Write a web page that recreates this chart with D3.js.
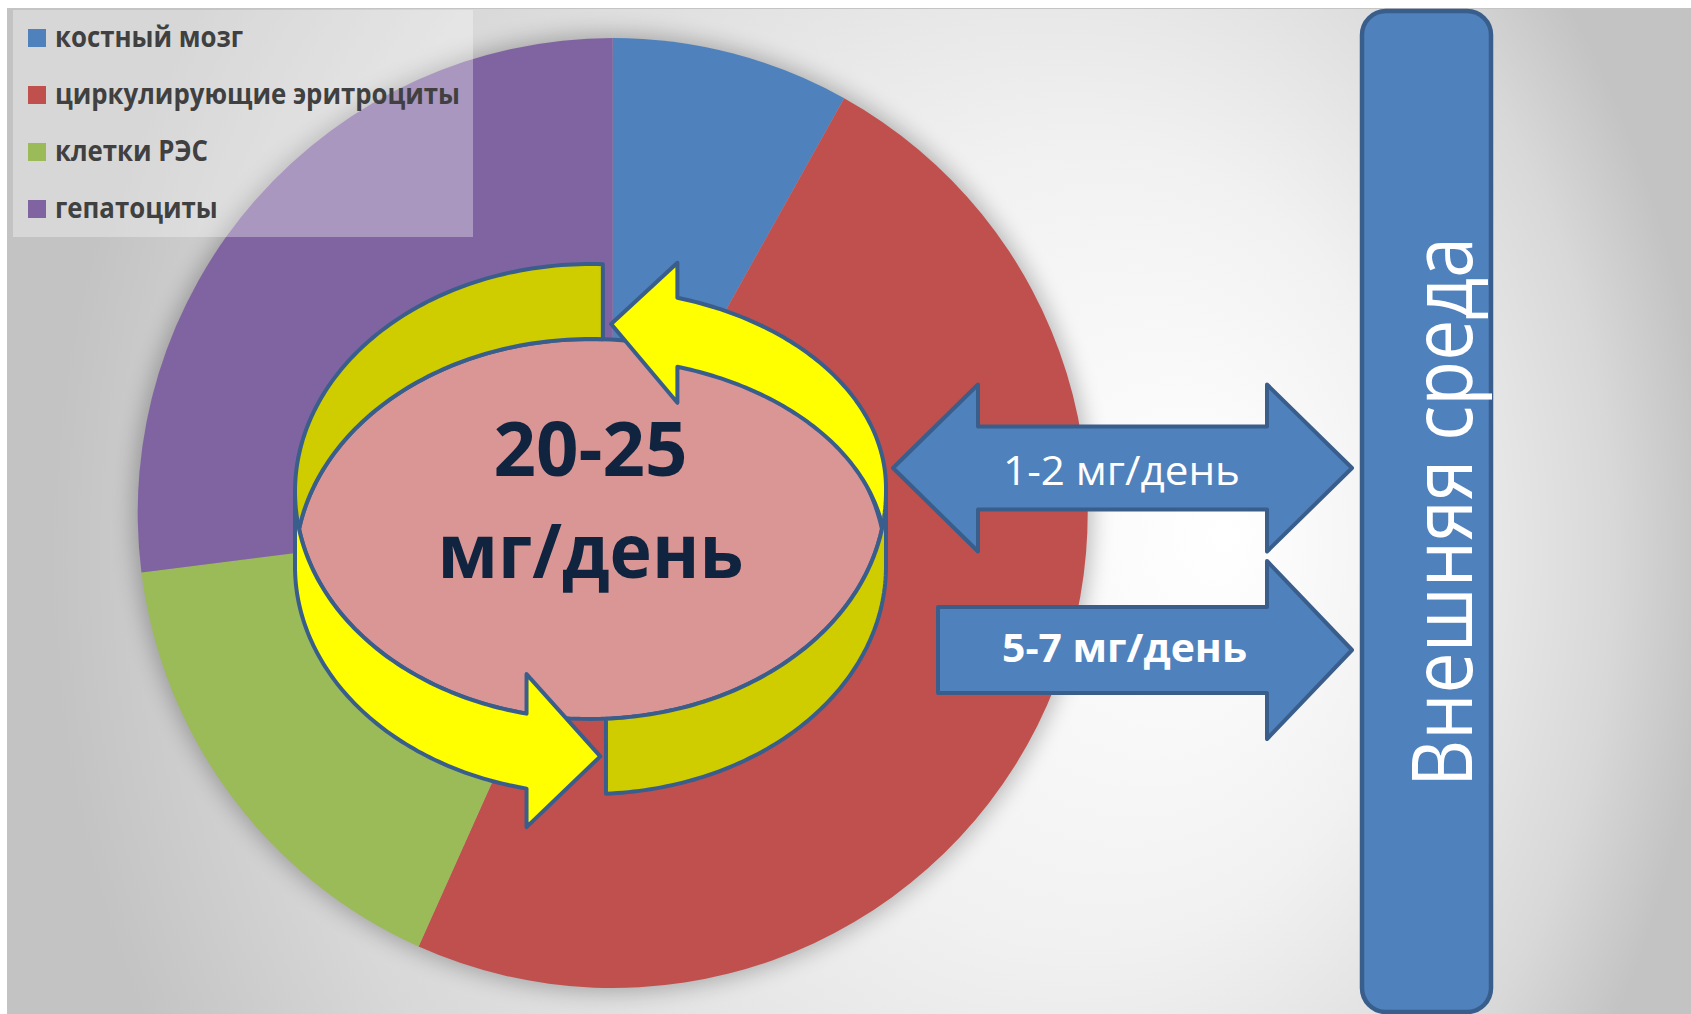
<!DOCTYPE html>
<html>
<head>
<meta charset="utf-8">
<script src="https://cdn.jsdelivr.net/npm/d3@7"></script>
<style>
  html, body { margin: 0; padding: 0; background: #ffffff; overflow: hidden; }
  svg { display: block; }
</style>
</head>
<body>
<svg id="chart" width="1691" height="1014"></svg>
<script>
// ---- data ----
const categories = ["костный мозг", "циркулирующие эритроциты", "клетки РЭС", "гепатоциты"];
const shares = [8.1, 48.6, 16.3, 27.0];
const sliceColors = ["#4F81BD", "#C0504D", "#9BBB59", "#8064A2"];
const cycleLabel = ["20-25", "мг/день"];
const exchangeLabels = ["1-2 мг/день", "5-7 мг/день"];
const exchangeTwoWay = [true, false];
const exchangeBold = [false, true];
const environmentLabel = "Внешняя среда";

// ---- layout ----
const W = 1691, H = 1014;
const FONT = "'Open Sans', 'Noto Sans', sans-serif";
const STROKE = "#3A5E8C";
const svg = d3.select("#chart");
const defs = svg.append("defs");

// plot area background: soft radial gradient, brightest right of the pie
const bg = defs.append("radialGradient")
  .attr("id", "bgGrad")
  .attr("gradientUnits", "userSpaceOnUse")
  .attr("cx", 880).attr("cy", 560).attr("r", 830)
  .attr("fx", 1230).attr("fy", 540)
  .attr("gradientTransform", "translate(0,560) scale(1,1.2) translate(0,-560)");
[[0, "#ffffff"], [0.4, "#f1f1f1"], [0.8, "#d8d8d8"], [1, "#c3c3c3"]]
  .forEach(([o, c]) => bg.append("stop").attr("offset", o).attr("stop-color", c));

const blur = defs.append("filter").attr("id", "pieShadow")
  .attr("x", "-20%").attr("y", "-20%").attr("width", "140%").attr("height", "140%");
blur.append("feGaussianBlur").attr("stdDeviation", 11);

svg.append("rect")
  .attr("x", 7.5).attr("y", 8.5).attr("width", W).attr("height", H)
  .attr("fill", "url(#bgGrad)")
  .attr("stroke", "#c4c4c4").attr("stroke-width", 1);

// ---- pie ----
const pieCx = 612.7, pieCy = 513, pieR = 475;
const pieG = svg.append("g").attr("transform", `translate(${pieCx},${pieCy})`);
pieG.append("circle").attr("r", pieR + 4)
  .attr("fill", "#000").attr("opacity", 0.26)
  .attr("filter", "url(#pieShadow)");
const slices = d3.pie().sort(null).value(d => d)(shares);
const arcGen = d3.arc().innerRadius(0).outerRadius(pieR);
pieG.selectAll("path.slice").data(slices).join("path")
  .attr("class", "slice")
  .attr("d", arcGen)
  .attr("fill", (d, i) => sliceColors[i]);

// ---- legend ----
const legend = svg.append("g");
legend.append("rect")
  .attr("x", 13).attr("y", 10).attr("width", 460).attr("height", 227)
  .attr("fill", "#ffffff").attr("fill-opacity", 0.33);
const items = legend.selectAll("g.item").data(categories).join("g")
  .attr("class", "item")
  .attr("transform", (d, i) => `translate(28,${29 + i * 57})`);
items.append("rect")
  .attr("width", 18).attr("height", 18)
  .attr("fill", (d, i) => sliceColors[i]);
const legendTexts = items.append("text")
  .attr("x", 27).attr("y", 18)
  .attr("font-family", FONT).attr("font-weight", 700).attr("font-size", 28)
  .attr("fill", "#404040")
  .text(d => d);
// condense the legend lettering so the longest entry spans 405px
const natural = legendTexts.nodes().map(n => n.getComputedTextLength());
const squeeze = 405 / d3.max(natural);
legendTexts.each(function (d, i) {
  d3.select(this).attr("textLength", natural[i] * squeeze).attr("lengthAdjust", "spacingAndGlyphs");
});

// ---- recycling ring: two curved arrows wrapped on a tilted cylinder ----
const deg = Math.PI / 180;
const mainCyl = { cx: 590.5, cy: 491.5, rx: 295.5, ry: 227.5, h: 75 };
const backCyl = { cx: 590.5, cy: 488, rx: 295.5, ry: 199, h: 69 };
const onCyl = (c, th, t) => [c.cx + c.rx * Math.cos(th * deg), c.cy + c.ry * Math.sin(th * deg) + t];
const along = (c, a0, a1, t, n = 80) => d3.range(n + 1).map(i => onCyl(c, a0 + (a1 - a0) * i / n, t));
const closed = d3.line();
const ringG = svg.append("g")
  .attr("stroke", STROKE).attr("stroke-width", 4).attr("stroke-linejoin", "round");

const band = (c, a0, a1) => [...along(c, a0, a1, 0), ...along(c, a1, a0, c.h)];
const arrow = (c, a0, aBack, aTip, up, down) => [
  ...along(c, a0, aBack, 0),
  onCyl(c, aBack, -up),
  onCyl(c, aTip, c.h / 2),
  onCyl(c, aBack, c.h + down),
  ...along(c, aBack, a0, c.h)
];

// inner disc: where the top and bottom rims overlap
const cross = Math.asin(mainCyl.h / (2 * mainCyl.ry)) / deg;
const disc = [
  ...along(mainCyl, cross, 180 - cross, 0),
  ...along(mainCyl, -180 + cross, -cross, mainCyl.h)
];
ringG.append("path").attr("d", closed(disc) + "Z").attr("fill", "#D99694");

// back tail (upper left), shaded
ringG.append("path").attr("d", closed(band(mainCyl, -87.6, -180)) + "Z").attr("fill", "#CFCC00");
// arrow along the back (right side up to the top)
ringG.append("path").attr("d", closed(arrow(backCyl, 0, -72.9, -86, 35, 36)) + "Z").attr("fill", "#FFFF00");
// front tail (lower right), shaded
ringG.append("path").attr("d", closed(band(mainCyl, 87, 0)) + "Z").attr("fill", "#CFCC00");
// arrow along the front (left side down to the bottom)
ringG.append("path").attr("d", closed(arrow(mainCyl, 180, 102.5, 88.1, 39.5, 38.5)) + "Z").attr("fill", "#FFFF00");

const centerText = svg.append("g")
  .attr("font-family", FONT).attr("font-weight", 700).attr("fill", "#10243F")
  .attr("text-anchor", "middle");
const cycleWidths = [194, 306];
const cycleBase = [476, 578];
cycleLabel.forEach((s, i) => {
  centerText.append("text")
    .attr("x", 590.5).attr("y", cycleBase[i])
    .attr("font-size", 75)
    .attr("textLength", cycleWidths[i]).attr("lengthAdjust", "spacingAndGlyphs")
    .text(s);
});

// ---- exchange with the environment ----
const flowRows = [
  { cy: 468, x0: 893, x1: 1352, shaft: 41.5, head: 83.5, len: 85, textX: 1121.5, textY: 485, textW: 237 },
  { cy: 650, x0: 938, x1: 1352, shaft: 43, head: 89, len: 85, textX: 1124.5, textY: 662, textW: 245 }
];
const flowG = svg.append("g");
exchangeLabels.forEach((label, i) => {
  const r = flowRows[i];
  const pts = exchangeTwoWay[i]
    ? [[r.x0, r.cy], [r.x0 + r.len, r.cy - r.head], [r.x0 + r.len, r.cy - r.shaft],
       [r.x1 - r.len, r.cy - r.shaft], [r.x1 - r.len, r.cy - r.head], [r.x1, r.cy],
       [r.x1 - r.len, r.cy + r.head], [r.x1 - r.len, r.cy + r.shaft],
       [r.x0 + r.len, r.cy + r.shaft], [r.x0 + r.len, r.cy + r.head]]
    : [[r.x0, r.cy - r.shaft], [r.x1 - r.len, r.cy - r.shaft], [r.x1 - r.len, r.cy - r.head],
       [r.x1, r.cy], [r.x1 - r.len, r.cy + r.head], [r.x1 - r.len, r.cy + r.shaft],
       [r.x0, r.cy + r.shaft]];
  flowG.append("path")
    .attr("d", closed(pts) + "Z")
    .attr("fill", "#4F81BD").attr("stroke", STROKE).attr("stroke-width", 4)
    .attr("stroke-linejoin", "round");
  flowG.append("text")
    .attr("x", r.textX).attr("y", r.textY)
    .attr("text-anchor", "middle")
    .attr("font-family", FONT).attr("font-weight", exchangeBold[i] ? 700 : 400)
    .attr("font-size", 40).attr("fill", "#ffffff")
    .attr("textLength", r.textW).attr("lengthAdjust", "spacingAndGlyphs")
    .text(label);
});

// environment column
const envG = svg.append("g");
envG.append("rect")
  .attr("x", 1362).attr("y", 11).attr("width", 129).attr("height", 1001)
  .attr("rx", 24).attr("ry", 24)
  .attr("fill", "#4F81BD").attr("stroke", STROKE).attr("stroke-width", 4.5);
envG.append("text")
  .attr("transform", "translate(1472,512) rotate(-90)")
  .attr("text-anchor", "middle")
  .attr("font-family", FONT).attr("font-size", 84).attr("fill", "#ffffff")
  .attr("textLength", 550).attr("lengthAdjust", "spacingAndGlyphs")
  .text(environmentLabel);
</script>
</body>
</html>
